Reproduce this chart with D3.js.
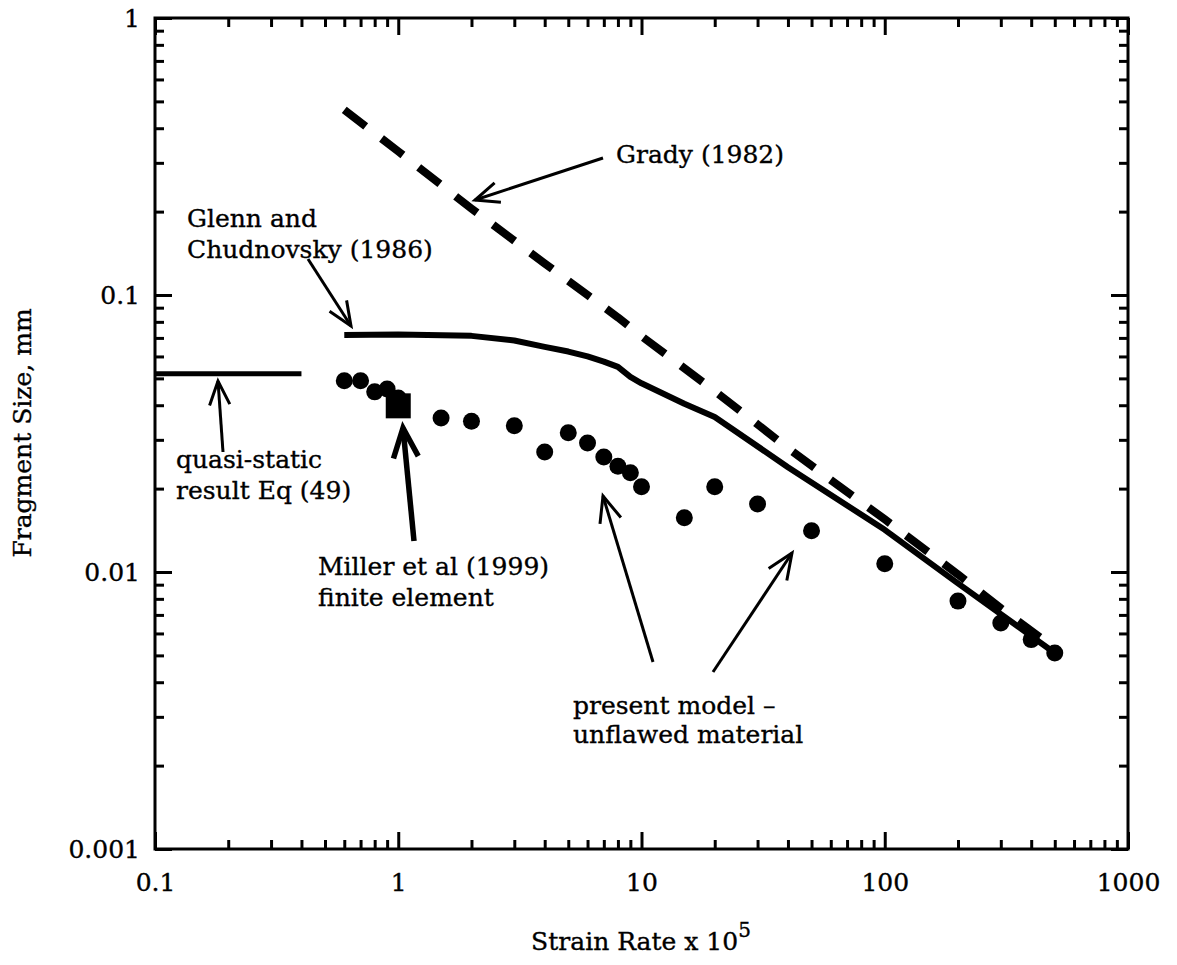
<!DOCTYPE html>
<html><head><meta charset="utf-8">
<script src="https://cdn.jsdelivr.net/npm/d3@7"></script>
<style>
html,body{margin:0;padding:0;background:#fff;}
text{font-family:"DejaVu Serif",serif;fill:#000;stroke:#000;stroke-width:0.35px;}
</style></head>
<body>
<svg id="chart" width="1177" height="965"></svg>
<script>
// ---- data ----
const xTickValues = [0.1, 1, 10, 100, 1000];
const xTickLabels = ["0.1", "1", "10", "100", "1000"];
const yTickValues = [0.001, 0.01, 0.1, 1];
const yTickLabels = ["0.001", "0.01", "0.1", "1"];

const gradyX = [0.6, 1, 2, 4, 6, 8, 10, 20, 40, 60, 100, 200, 300, 500];
const gradyY = [0.466, 0.33, 0.205, 0.13, 0.10, 0.083, 0.071, 0.045, 0.028, 0.0215, 0.0155, 0.0098, 0.0074, 0.0053];

const glennX = [0.6, 1, 2, 3, 4, 5, 6, 7, 8, 9, 10, 15, 20, 40, 100, 200, 500];
const glennY = [0.0717, 0.072, 0.0712, 0.0685, 0.065, 0.0625, 0.06, 0.0575, 0.055, 0.0506, 0.048, 0.0405, 0.0363, 0.0239, 0.0142, 0.0091, 0.0051];

const quasiX = [0.1, 0.4];
const quasiY = [0.052, 0.052];

const modelX = [0.6, 0.7, 0.8, 0.9, 1, 1.5, 2, 3, 4, 5, 6, 7, 8, 9, 10, 15, 20, 30, 50, 100, 200, 300, 400, 500];
const modelY = [0.049, 0.049, 0.0447, 0.0458, 0.0425, 0.036, 0.035, 0.0337, 0.0271, 0.0318, 0.0292, 0.026, 0.0241, 0.0228, 0.0203, 0.0157, 0.0203, 0.0176, 0.0141, 0.0107, 0.00785, 0.00655, 0.0057, 0.0051];

const millerX = [1.0];
const millerY = [0.0398];

// ---- layout ----
const L = 155, R = 1128, T = 18, B = 849;
const svg = d3.select("#chart");
const x = d3.scaleLog().domain([0.1, 1000]).range([L, R]);
const y = d3.scaleLog().domain([0.001, 1]).range([B, T]);

function minors(lo, hi) {
  const out = [];
  for (let d = lo; d < hi; d *= 10) for (let k = 2; k <= 9; k++) out.push(d * k);
  return out;
}
const xMinor = minors(0.1, 1000);
const yMinor = minors(0.001, 1);

const FS = 25;
function styleAxis(g) {
  g.select(".domain").remove();
  g.selectAll(".tick line").attr("stroke", "#000").attr("stroke-width", 3);
}
// bottom
svg.append("g").attr("transform", `translate(0,${B})`)
  .call(d3.axisBottom(x).tickValues(xTickValues).tickSize(-17).tickPadding(24)
    .tickFormat((d, i) => xTickLabels[i]))
  .call(styleAxis)
  .call(g => g.selectAll("text").attr("font-size", FS).attr("font-family", "DejaVu Serif"));
svg.append("g").attr("transform", `translate(0,${B})`)
  .call(d3.axisBottom(x).tickValues(xMinor).tickSize(-9).tickFormat(""))
  .call(styleAxis);
// top
svg.append("g").attr("transform", `translate(0,${T})`)
  .call(d3.axisTop(x).tickValues(xTickValues).tickSize(-17).tickFormat(""))
  .call(styleAxis);
svg.append("g").attr("transform", `translate(0,${T})`)
  .call(d3.axisTop(x).tickValues(xMinor).tickSize(-9).tickFormat(""))
  .call(styleAxis);
// left
svg.append("g").attr("transform", `translate(${L},0)`)
  .call(d3.axisLeft(y).tickValues(yTickValues).tickSize(-17).tickPadding(15)
    .tickFormat((d, i) => yTickLabels[i]))
  .call(styleAxis)
  .call(g => g.selectAll("text").attr("font-size", FS).attr("font-family", "DejaVu Serif"));
svg.append("g").attr("transform", `translate(${L},0)`)
  .call(d3.axisLeft(y).tickValues(yMinor).tickSize(-9).tickFormat(""))
  .call(styleAxis);
// right
svg.append("g").attr("transform", `translate(${R},0)`)
  .call(d3.axisRight(y).tickValues(yTickValues).tickSize(-17).tickFormat(""))
  .call(styleAxis);
svg.append("g").attr("transform", `translate(${R},0)`)
  .call(d3.axisRight(y).tickValues(yMinor).tickSize(-9).tickFormat(""))
  .call(styleAxis);

// frame
svg.append("rect").attr("x", L).attr("y", T).attr("width", R - L).attr("height", B - T)
  .attr("fill", "none").attr("stroke", "#000").attr("stroke-width", 3);

// ---- series ----
const line = d3.line().x(d => x(d[0])).y(d => y(d[1]));
svg.append("path").datum(d3.zip(gradyX, gradyY)).attr("d", line)
  .attr("fill", "none").attr("stroke", "#000").attr("stroke-width", 8)
  .attr("stroke-dasharray", "27,20").attr("stroke-linejoin", "round");
svg.append("path").datum(d3.zip(glennX, glennY)).attr("d", line)
  .attr("fill", "none").attr("stroke", "#000").attr("stroke-width", 6).attr("stroke-linejoin", "round");
svg.append("path").datum(d3.zip(quasiX, quasiY)).attr("d", line)
  .attr("fill", "none").attr("stroke", "#000").attr("stroke-width", 5);

svg.append("g").selectAll("circle").data(d3.zip(modelX, modelY)).join("circle")
  .attr("cx", d => x(d[0])).attr("cy", d => y(d[1])).attr("r", 8.5).attr("fill", "#000");
svg.append("g").selectAll("rect").data(d3.zip(millerX, millerY)).join("rect")
  .attr("x", d => x(d[0]) - 12.5).attr("y", d => y(d[1]) - 12.5)
  .attr("width", 25).attr("height", 25).attr("fill", "#000");

// ---- annotations ----
function arrow(x1, y1, x2, y2, w, len) {
  const a = Math.atan2(y2 - y1, x2 - x1), s = 0.4;
  const p1 = [x2 - len * Math.cos(a - s), y2 - len * Math.sin(a - s)];
  const p2 = [x2 - len * Math.cos(a + s), y2 - len * Math.sin(a + s)];
  svg.append("line").attr("x1", x1).attr("y1", y1).attr("x2", x2).attr("y2", y2)
    .attr("stroke", "#000").attr("stroke-width", w);
  svg.append("path").attr("d", `M${p1[0]},${p1[1]}L${x2},${y2}L${p2[0]},${p2[1]}`)
    .attr("fill", "none").attr("stroke", "#000").attr("stroke-width", w)
    .attr("stroke-linejoin", "miter");
}
arrow(603, 158, 475, 200, 3, 26);
arrow(308, 259, 351, 326, 3, 26);
arrow(223, 452, 218, 381, 3, 26);
arrow(414, 541, 403, 428, 5.5, 32);
arrow(653, 662, 603, 496, 3, 28);
arrow(713, 672, 792, 553, 3, 28);

function label(tx, ty, lines, lh) {
  const t = svg.append("text").attr("x", tx).attr("y", ty).attr("font-size", FS);
  lines.forEach((s, i) => t.append("tspan").attr("x", tx).attr("dy", i ? lh : 0).text(s));
}
label(616, 163, ["Grady (1982)"], 0);
label(187, 227, ["Glenn and", "Chudnovsky (1986)"], 31);
label(176, 468, ["quasi-static", "result Eq (49)"], 31);
label(318, 575, ["Miller et al (1999)", "finite element"], 31);
label(573, 714, ["present model –", "unflawed material"], 29);

// axis titles
const xt = svg.append("text").attr("x", 641).attr("y", 950).attr("text-anchor", "middle").attr("font-size", FS);
xt.append("tspan").text("Strain Rate x 10");
xt.append("tspan").attr("dy", -13).attr("font-size", 20).text("5");

svg.append("text").attr("transform", "translate(31,433) rotate(-90)")
  .attr("text-anchor", "middle").attr("font-size", FS).text("Fragment Size, mm");
</script>
</body></html>
